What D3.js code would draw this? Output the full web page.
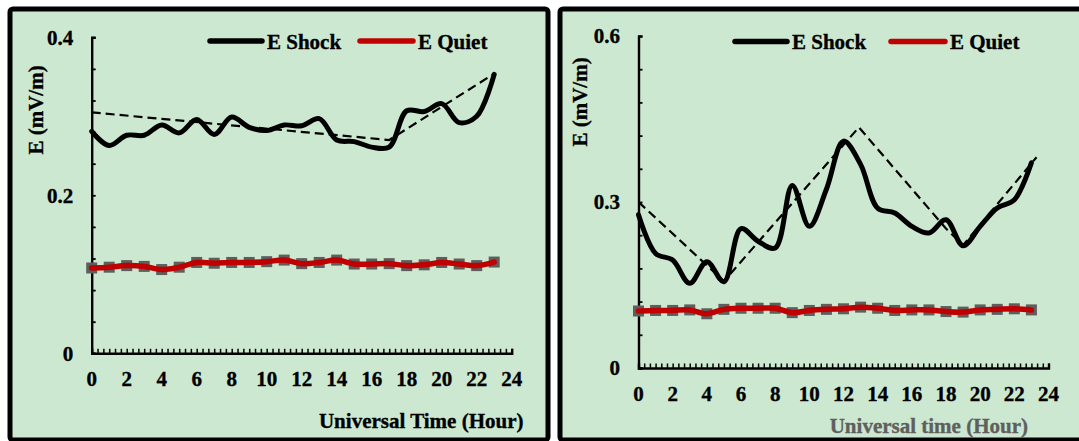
<!DOCTYPE html>
<html>
<head>
<meta charset="utf-8">
<script src="https://cdn.jsdelivr.net/npm/d3@7"></script>
<style>
  html, body { margin: 0; padding: 0; background: #fff; }
  svg { display: block; }
  svg text { font-family: "Liberation Serif", "Times New Roman", serif; font-weight: bold; font-size: 21px; }
</style>
</head>
<body>
<div id="wrapper"></div>
<script>
// hours 0..23
const hours = d3.range(0, 24);

// left panel
const shockA = [0.281, 0.263, 0.276, 0.276, 0.289, 0.279, 0.296, 0.277, 0.299, 0.286, 0.282, 0.289,
                0.288, 0.297, 0.270, 0.268, 0.261, 0.261, 0.307, 0.306, 0.316, 0.292, 0.300, 0.353];
const quietA = [0.108, 0.109, 0.111, 0.110, 0.106, 0.109, 0.115, 0.114, 0.115, 0.115, 0.116, 0.118,
                0.1135, 0.115, 0.118, 0.113, 0.113, 0.1135, 0.111, 0.112, 0.115, 0.113, 0.111, 0.1155];
const trendHoursA = [0, 17, 23];
const trendA = [0.305, 0.270, 0.354];
const yTicksA = [0, 0.2, 0.4];

// right panel
const shockB = [0.277, 0.207, 0.195, 0.153, 0.192, 0.156, 0.252, 0.229, 0.217, 0.330, 0.256, 0.323,
                0.410, 0.368, 0.289, 0.280, 0.256, 0.244, 0.268, 0.221, 0.256, 0.289, 0.304, 0.371];
const quietB = [0.103, 0.104, 0.104, 0.105, 0.098, 0.106, 0.108, 0.108, 0.108, 0.100, 0.104, 0.106,
                0.107, 0.110, 0.108, 0.104, 0.105, 0.105, 0.102, 0.101, 0.105, 0.106, 0.107, 0.105];
const trendHoursB = [0, 5, 12.9, 18, 19, 23.3];
const trendB = [0.300, 0.157, 0.435, 0.252, 0.222, 0.381];
const yTicksB = [0, 0.3, 0.6];

const xTicks = d3.range(0, 25, 2);
const legendNames = ['E Shock', 'E Quiet'];

const width = 1079;
const height = 441;

const svg = d3.select('#wrapper')
  .append('svg')
  .attr('width', width)
  .attr('height', height);

const panels = [
  {
    frame: [10, 9, 538, 431],
    x: [91.7, 511.7], y: [353.3, 37.3], yMax: 0.4, yMinor: 0.04,
    shock: shockA, quiet: quietA, trendH: trendHoursA, trend: trendA, yTicks: yTicksA,
    legend: { y: 41, black: [210, 262], red: [360, 413], base: 48.5 },
    yTitle: [35.5, 110],
    xTitle: { text: 'Universal Time (Hour)', x: 523.5, y: 427.5, color: '#000' },
  },
  {
    frame: [560, 9, 540, 431],
    x: [638.5, 1048.5], y: [368, 36], yMax: 0.6, yMinor: 0.06,
    shock: shockB, quiet: quietB, trendH: trendHoursB, trend: trendB, yTicks: yTicksB,
    legend: { y: 41.5, black: [735, 787], red: [891, 945], base: 49 },
    yTitle: [579.5, 102],
    xTitle: { text: 'Universal time (Hour)', x: 1028, y: 432.5, color: '#5f5f5f' },
  },
];

// a touch of outline so the bold serif reads as heavy as the original
const heavy = (s, color) => s.style('stroke', color).style('stroke-width', 0.35);

panels.forEach((p) => {
  const g = svg.append('g');

  // frame
  g.append('rect')
    .attr('x', p.frame[0]).attr('y', p.frame[1])
    .attr('width', p.frame[2]).attr('height', p.frame[3])
    .attr('rx', 3)
    .style('fill', '#cce8d0')
    .style('stroke', '#000')
    .style('stroke-width', 5);

  const xScale = d3.scaleLinear().domain([0, 24]).range(p.x);
  const yScale = d3.scaleLinear().domain([0, p.yMax]).range(p.y);

  // axes: minor ticks pointing inward
  const xAxis = d3.axisBottom(xScale)
    .tickValues(d3.range(0, 24 + 1e-6, 1 / 3))
    .tickSize(-4.5)
    .tickFormat('');
  g.append('g')
    .attr('transform', `translate(0,${p.y[0]})`)
    .call(xAxis)
    .call((s) => s.select('.domain').attr('stroke-width', 2.4))
    .call((s) => s.selectAll('.tick line').attr('stroke-width', 1.5));

  const yAxis = d3.axisLeft(yScale)
    .tickValues(d3.range(0, p.yMax + 1e-6, p.yMinor))
    .tickSize(-4)
    .tickFormat('');
  g.append('g')
    .attr('transform', `translate(${p.x[0]},0)`)
    .call(yAxis)
    .call((s) => s.select('.domain').attr('stroke-width', 2.4))
    .call((s) => s.selectAll('.tick line').attr('stroke-width', 1.8));

  // tick labels
  g.append('g').selectAll('text')
    .data(xTicks)
    .join('text')
    .attr('x', (d) => xScale(d))
    .attr('y', p.y[0] + 33)
    .attr('text-anchor', 'middle')
    .call(heavy, '#000')
    .text((d) => d);

  g.append('g').selectAll('text')
    .data(p.yTicks)
    .join('text')
    .attr('x', p.x[0] - 18.5)
    .attr('y', (d) => yScale(d))
    .attr('dy', '0.35em')
    .attr('text-anchor', 'end')
    .call(heavy, '#000')
    .text((d) => d);

  // titles
  g.append('text')
    .attr('transform', `translate(${p.yTitle[0]},${p.yTitle[1]}) rotate(-90)`)
    .attr('dy', '0.35em')
    .attr('text-anchor', 'middle')
    .call(heavy, '#000')
    .text('E (mV/m)');

  g.append('text')
    .attr('x', p.xTitle.x)
    .attr('y', p.xTitle.y)
    .attr('text-anchor', 'end')
    .style('fill', p.xTitle.color)
    .call(heavy, p.xTitle.color)
    .text(p.xTitle.text);

  const smooth = d3.line()
    .x((d, i) => xScale(hours[i]))
    .y((d) => yScale(d))
    .curve(d3.curveCatmullRom.alpha(0.5));

  // quiet markers (grey dashes) under the red line
  g.append('g').selectAll('rect')
    .data(p.quiet)
    .join('rect')
    .attr('x', (d, i) => xScale(hours[i]) - 5.5)
    .attr('y', (d) => yScale(d) - 5.5)
    .attr('width', 11)
    .attr('height', 11)
    .style('fill', '#5e5e5e');

  g.append('path')
    .datum(p.quiet)
    .attr('d', smooth)
    .style('fill', 'none')
    .style('stroke', '#c00000')
    .style('stroke-width', 5.5)
    .style('stroke-linecap', 'round');

  g.append('path')
    .datum(p.shock)
    .attr('d', smooth)
    .style('fill', 'none')
    .style('stroke', '#000')
    .style('stroke-width', 5)
    .style('stroke-linecap', 'round')
    .style('stroke-linejoin', 'round');

  // trend (dashed)
  const trendLine = d3.line()
    .x((d, i) => xScale(p.trendH[i]))
    .y((d) => yScale(d));
  g.append('path')
    .datum(p.trend)
    .attr('d', trendLine)
    .style('fill', 'none')
    .style('stroke', '#000')
    .style('stroke-width', 2.2)
    .style('stroke-dasharray', '9,5');

  // legend
  const lg = g.append('g');
  lg.append('line')
    .attr('x1', p.legend.black[0]).attr('x2', p.legend.black[1])
    .attr('y1', p.legend.y).attr('y2', p.legend.y)
    .style('stroke', '#000').style('stroke-width', 5.5).style('stroke-linecap', 'round');
  lg.append('text')
    .attr('x', p.legend.black[1] + 5)
    .attr('y', p.legend.base)
    .call(heavy, '#000')
    .text(legendNames[0]);
  lg.append('line')
    .attr('x1', p.legend.red[0]).attr('x2', p.legend.red[1])
    .attr('y1', p.legend.y).attr('y2', p.legend.y)
    .style('stroke', '#c00000').style('stroke-width', 5.5).style('stroke-linecap', 'round');
  lg.append('text')
    .attr('x', p.legend.red[1] + 5)
    .attr('y', p.legend.base)
    .call(heavy, '#000')
    .text(legendNames[1]);
});
</script>
</body>
</html>
